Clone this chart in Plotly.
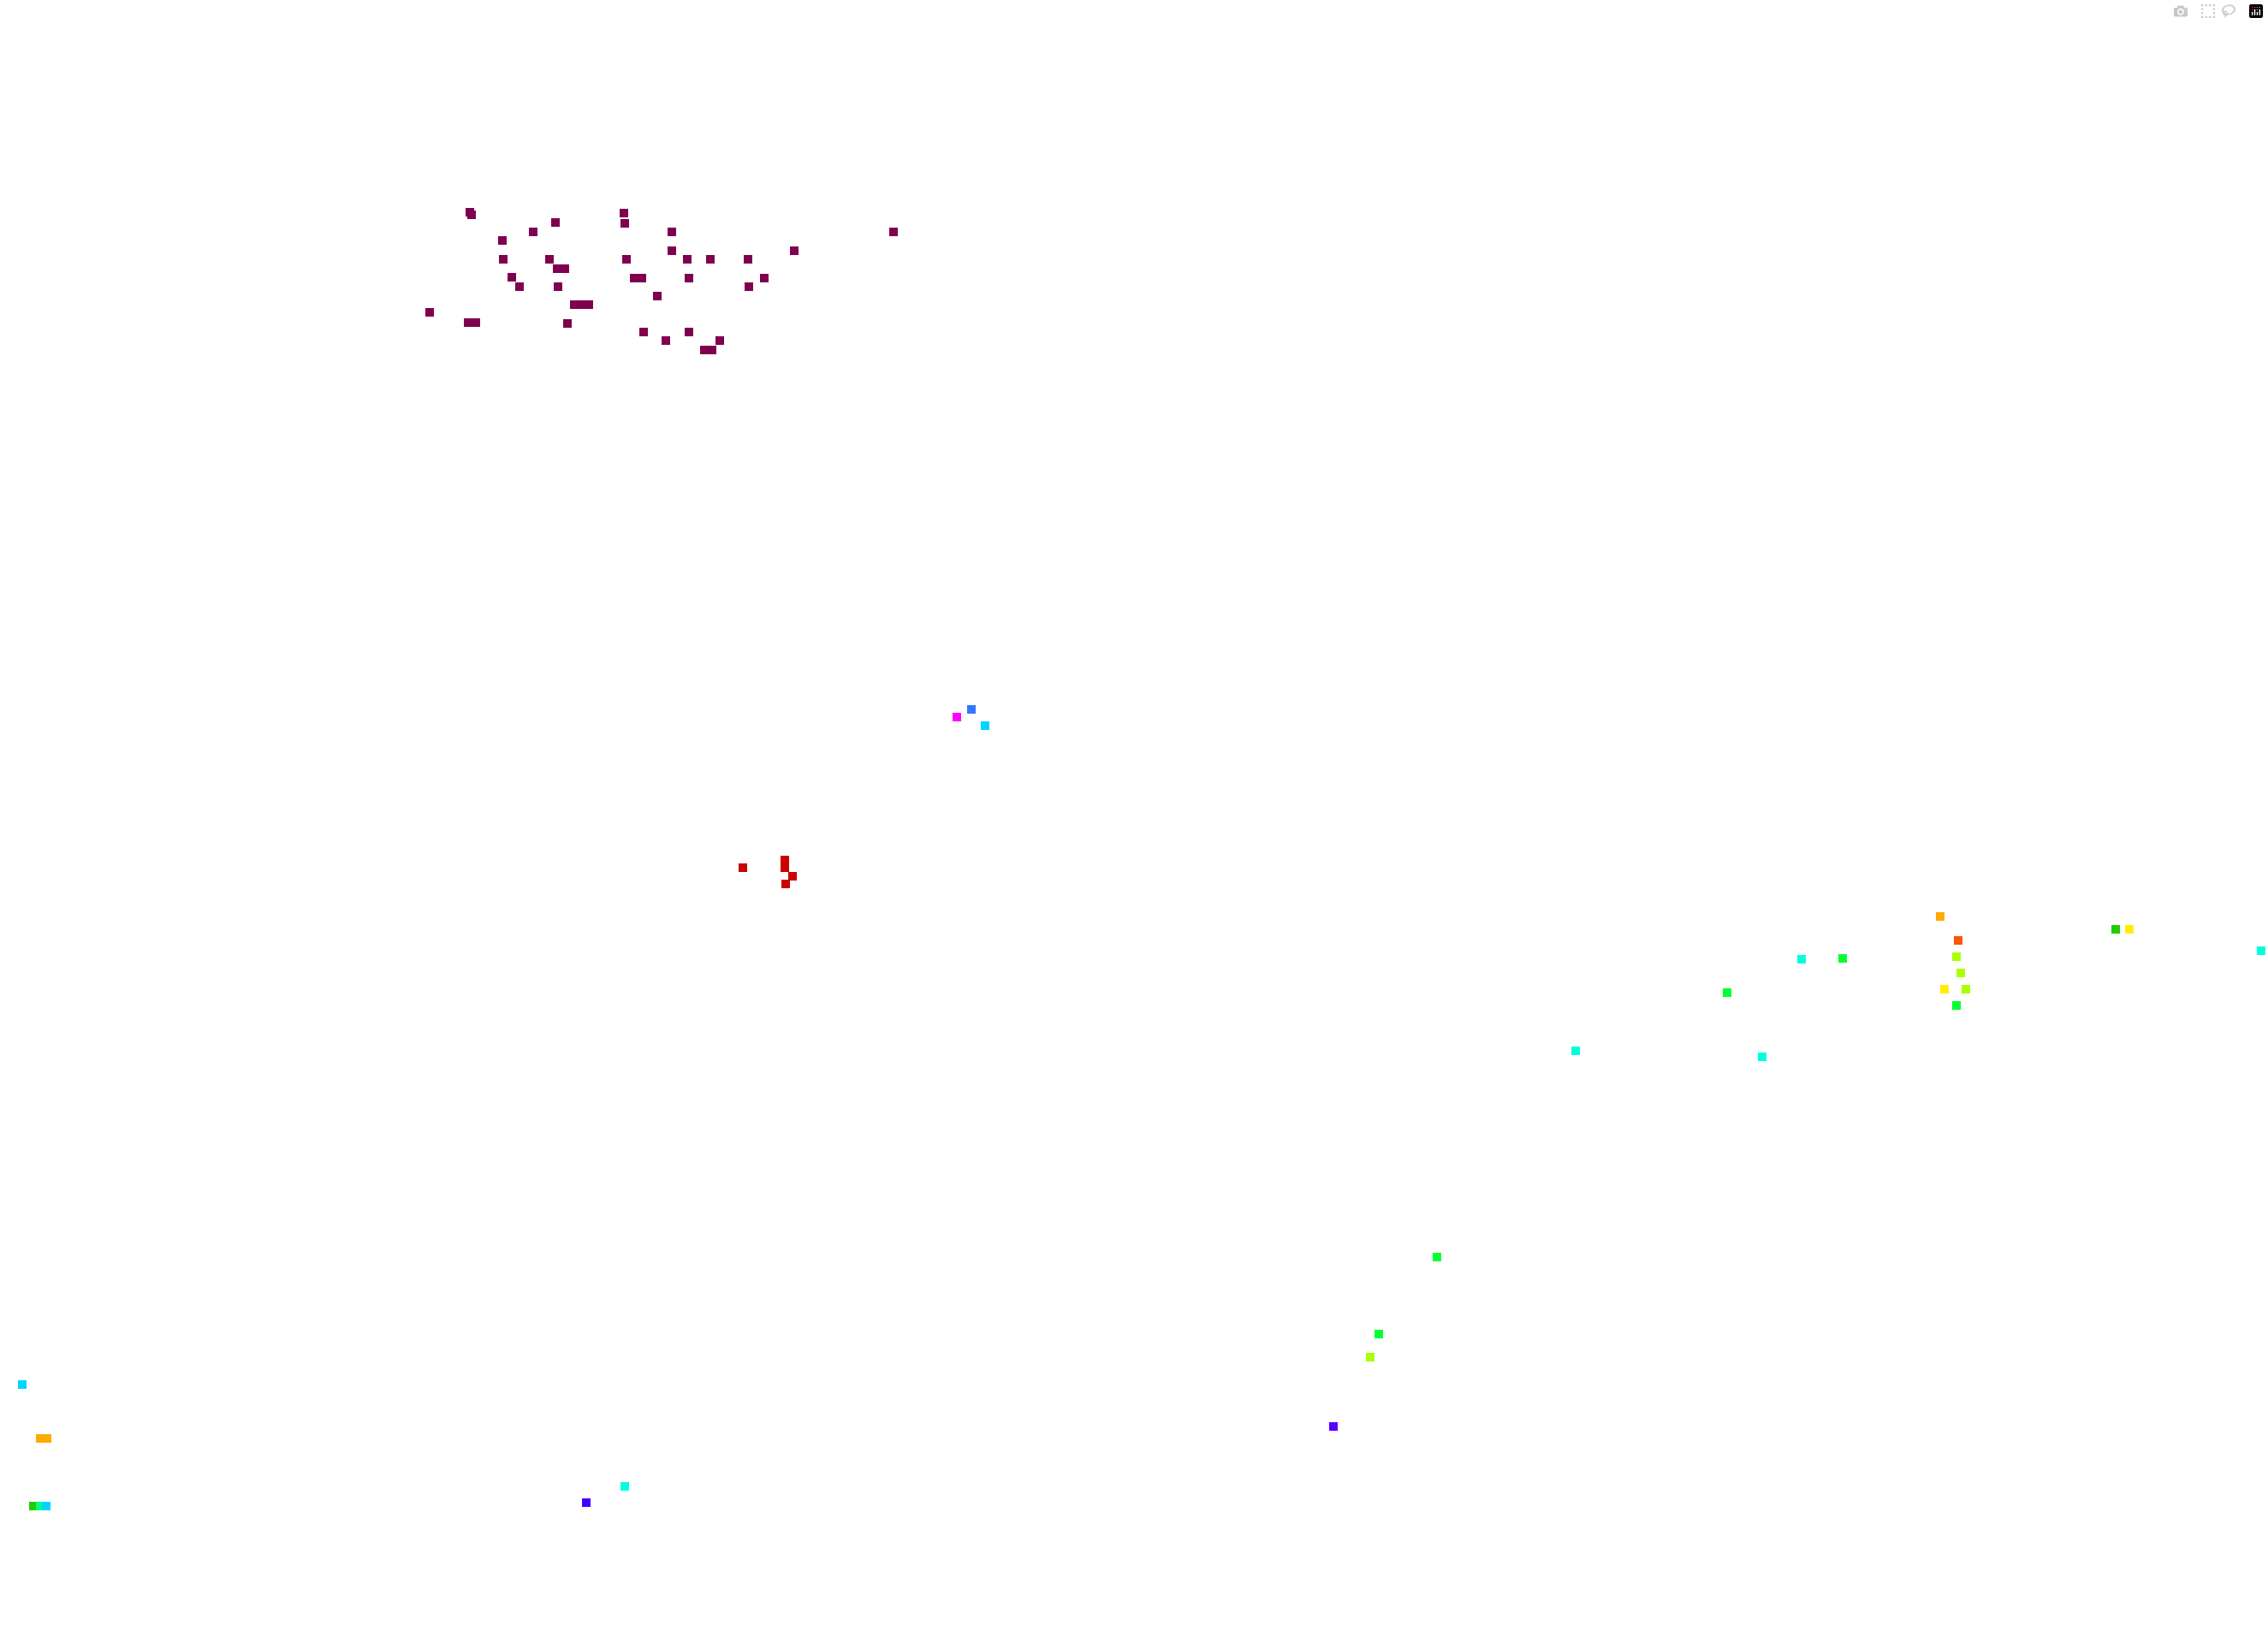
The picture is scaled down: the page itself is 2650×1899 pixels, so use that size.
import plotly.graph_objects as go

# Colour of each group of cells
palette = {
    "purple": "#7F004F",
    "red": "#CC0000",
    "orangered": "#FF5500",
    "orange": "#FFAA00",
    "yellow": "#FFEE00",
    "lime": "#AAFF00",
    "green": "#22CC00",
    "springgreen": "#00FF33",
    "mint": "#00FF80",
    "aqua": "#00FFDD",
    "skyblue": "#00D4FF",
    "blue": "#3377FF",
    "violet": "#5500FF",
    "indigo": "#4400FF",
    "magenta": "#FF00FF",
}

# Cell centres (horizontal, vertical) and their colour group
purple_x = [549, 551, 649, 729, 730, 623, 785, 1044, 587, 785, 928, 588, 642, 732, 803,
            830, 874, 651, 660, 598, 741, 750, 805, 893, 607, 652, 875, 768, 671, 679,
            688, 502, 547, 556, 663, 752, 805, 778, 841, 823, 832]
purple_y = [248, 251, 260, 249, 261, 271, 271, 271, 281, 293, 293, 303, 303, 303, 303,
            303, 303, 314, 314, 324, 325, 325, 325, 325, 335, 335, 335, 346, 356, 356,
            356, 365, 377, 377, 378, 388, 388, 398, 398, 409, 409]

other_x = [1118, 1135, 1151,
           868, 917, 917, 926, 918,
           26, 47, 55, 39, 47, 54,
           1679, 1611, 1601, 1558, 685, 730,
           2267, 2472, 2488, 2288, 2642, 2105, 2153, 2286, 2291, 2272, 2297, 2018, 2286,
           1841, 2059]
other_y = [838, 829, 848,
           1014, 1005, 1014, 1024, 1033,
           1618, 1681, 1681, 1760, 1760, 1760,
           1469, 1559, 1586, 1667, 1756, 1737,
           1071, 1086, 1086, 1099, 1111, 1121, 1120, 1118, 1137, 1156, 1156, 1160, 1175,
           1228, 1235]
other_group = ["magenta", "blue", "skyblue",
               "red", "red", "red", "red", "red",
               "skyblue", "orange", "orange", "green", "mint", "skyblue",
               "springgreen", "springgreen", "lime", "violet", "indigo", "aqua",
               "orange", "green", "yellow", "orangered", "aqua", "aqua", "springgreen",
               "lime", "lime", "yellow", "lime", "springgreen", "springgreen",
               "aqua", "aqua"]

fig = go.Figure()
fig.add_trace(go.Scatter(
    x=purple_x, y=purple_y, mode="markers",
    marker=dict(symbol="square", size=10, color=palette["purple"], line=dict(width=0)),
    hoverinfo="skip",
))
fig.add_trace(go.Scatter(
    x=other_x, y=other_y, mode="markers",
    marker=dict(symbol="square", size=10, color=[palette[g] for g in other_group],
                line=dict(width=0)),
    hoverinfo="skip",
))

fig.update_layout(
    width=2650, height=1899,
    margin=dict(l=0, r=0, t=0, b=0),
    paper_bgcolor="white", plot_bgcolor="white",
    showlegend=False,
    xaxis=dict(range=[0, 2650], visible=False, fixedrange=True),
    yaxis=dict(range=[1899, 0], visible=False, fixedrange=True),
)

fig.write_html(
    "out.html",
    post_script="document.body.style.margin='0';document.body.style.overflow='hidden';",
)
